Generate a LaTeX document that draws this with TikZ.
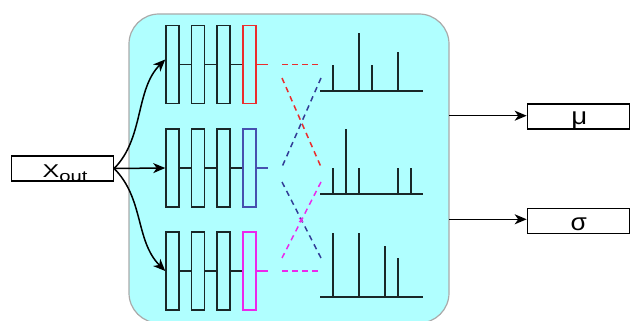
\documentclass[tikz,border=0pt]{standalone}
\usepackage{fontspec}
\setmainfont{Liberation Sans}
\usetikzlibrary{arrows.meta}
\definecolor{cyanbg}{RGB}{176,255,255}
\definecolor{panelgray}{RGB}{170,170,170}
\definecolor{barblack}{RGB}{25,40,40}
\definecolor{redc}{RGB}{235,45,45}
\definecolor{bluec}{RGB}{70,80,175}
\definecolor{dblue}{RGB}{50,60,150}
\definecolor{magc}{RGB}{235,40,235}
\begin{document}
\begin{tikzpicture}[x=1pt,y=-1pt,
  panel/.style={draw=panelgray, fill=cyanbg, line width=1.2pt, rounded corners=30pt},
  bar/.style={draw=barblack, line width=1.5pt, minimum width=13pt, minimum height=78pt, inner sep=0pt},
  io/.style={draw=black, line width=1.2pt, inner sep=0pt, minimum height=25pt, minimum width=102pt},
  dsh/.style={dash pattern=on 5.5pt off 4.5pt, line width=1.5pt},
  spike/.style={line width=1.7pt, draw=barblack},
  link/.style={line width=1.5pt},
  arr/.style={-{Stealth[length=12pt,width=10pt,inset=3.5pt]}, line width=1.5pt, draw=black},
  lbl/.style={inner sep=0pt, anchor=base, font=\fontsize{24}{24}\selectfont}
]
\useasboundingbox (0,0) rectangle (630,321);
% panel
\draw[panel] (129,14) rectangle (449,323);

% bars
\foreach \n/\c/\col in {t/64.5/redc, m/168/bluec, b/271/magc}{
  \node[bar] (\n1) at (172.5,\c) {};
  \node[bar] (\n2) at (198,\c) {};
  \node[bar] (\n3) at (223.5,\c) {};
  \node[bar, draw=\col] (\n4) at (249.5,\c) {};
  \coordinate (\n5) at (268,\c);
  \draw[link, barblack] (\n1.east) -- (\n2.west);
  \draw[link, barblack] (\n2.east) -- (\n3.west);
  \draw[link, barblack] (\n3.east) -- (\n4.west);
  \draw[link, \col] (\n4.east) -- (\n5);
}

% dashed permutation lines
\draw[dsh, redc] (282,64.5) -- (321,64.5);
\draw[dsh, redc] (282,78) -- (321,167);
\draw[dsh, dblue] (321,78) -- (282,167);
\draw[dsh, dblue] (282,182) -- (321,258);
\draw[dsh, magc] (321,182) -- (282,258);
\draw[dsh, magc] (282,271) -- (321,271);
\draw[magc, line width=1pt] (299,218) -- (303,222) (303,218) -- (299,222);

% histograms
\draw[spike] (320,90.7) -- (423,90.7);
\foreach \x/\y in {333.3/65, 359/33, 371.7/65, 397.7/52.3}
  \draw[spike] (\x,90.7) -- (\x,\y);
\draw[spike] (320,194) -- (423,194);
\foreach \x/\y in {333.3/168, 346/129.3, 359/168, 397.7/168, 410.7/168}
  \draw[spike] (\x,194) -- (\x,\y);
\draw[spike] (320,296.7) -- (423,296.7);
\foreach \x/\y in {333.3/232.7, 359/232.7, 385/246, 397.7/258.3}
  \draw[spike] (\x,296.7) -- (\x,\y);

% input / outputs
\node[io] (xout) at (62.5,168.5) {};
\node[inner sep=0pt, anchor=base] (xlbl) at (65,177.5) {\scalebox{1.35}[1]{\fontsize{18.5}{18}\selectfont X\raisebox{-4pt}{\fontsize{15}{15}\selectfont out}}};
\node[io] (mu) at (578.3,116.6) {};
\node[lbl] (mulbl) at (579.3,124.3) {\scalebox{1.15}[1]{μ}};
\node[io] (sigma) at (578.3,221.2) {};
\node[lbl] (sigmalbl) at (578.7,230.5) {\scalebox{1.1}[1]{σ}};

% arrows from input
\draw[arr] (xout.east) .. controls +(30,-30) and +(-30,30) .. ([yshift=5pt]t1.west);
\draw[arr] (xout.east) -- (m1.west);
\draw[arr] (xout.east) .. controls +(30,30) and +(-30,-30) .. (b1.west);

% arrows to outputs
\coordinate (o1) at (449,115.7);
\coordinate (o2) at (449,219.3);
\draw[arr] (o1) -- (mu.west |- o1);
\draw[arr] (o2) -- (sigma.west |- o2);
\end{tikzpicture}
\end{document}
